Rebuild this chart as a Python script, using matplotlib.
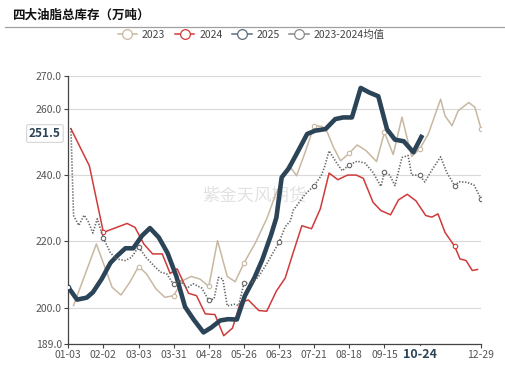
#!/usr/bin/env python3
# Line chart: total inventory of four major edible oils (10k tonnes), 2023/2024/2025 and 2023-2024 average.
# x values are category positions (one tick label every 4 positions).
import matplotlib

matplotlib.use("Agg")
import matplotlib.pyplot as plt
from matplotlib.lines import Line2D
from matplotlib.transforms import blended_transform_factory

plt.rcParams["font.family"] = ["Noto Sans CJK SC", "DejaVu Sans"]

TITLE = "四大油脂总库存（万吨）"
WATERMARK = "紫金天风期货"

TICK_POS = [0, 4, 8, 12, 16, 20, 24, 28, 32, 36, 47]
TICK_LABELS = ["01-03", "02-02", "03-03", "03-31", "04-28", "05-26",
               "06-23", "07-21", "08-18", "09-15", "12-29"]
POINTER_X = 40
POINTER_X_LABEL = "10-24"
POINTER_Y = 251.5

Y_TICKS = [189, 200, 220, 240, 260, 270]

X_2023 = [0.6, 3.2, 5.0, 6.0, 7.0, 8.0, 8.9, 10.0, 11.0, 12.0, 13.0, 14.0, 15.0, 16.0,
          17.0, 18.1, 19.0, 20.0, 21.3, 22.6, 23.6, 24.1, 25.1, 26.0, 27.0, 28.0, 28.9,
          29.5, 30.2, 31.0, 32.0, 32.9, 33.9, 35.1, 36.0, 37.0, 38.0, 39.1, 40.0, 41.0,
          42.4, 42.9, 43.7, 44.4, 45.6, 46.3, 47.0]
Y_2023 = [200.6, 219.2, 206.1, 203.8, 207.6, 212.4, 210.2, 205.6, 203.1, 203.6, 208.1,
          209.4, 208.6, 206.4, 220.2, 209.4, 207.8, 213.4, 219.5, 226.8, 234.1, 236.8,
          243.1, 239.8, 247.1, 254.9, 254.7, 252.9, 248.4, 244.3, 246.6, 249.1, 247.4,
          244.1, 252.9, 246.2, 257.5, 245.6, 247.8, 252.4, 262.9, 257.9, 254.9, 259.4,
          261.9, 260.5, 254.0]

X_2024 = [0.3, 2.4, 4.0, 6.7, 7.6, 8.6, 9.6, 10.7, 11.6, 12.4, 13.7, 14.6, 15.6, 16.7,
          17.7, 18.7, 19.6, 20.5, 21.7, 22.6, 23.7, 24.7, 25.6, 26.6, 27.7, 28.7, 29.7,
          30.7, 31.8, 32.8, 33.6, 34.7, 35.6, 36.7, 37.6, 38.6, 39.6, 40.7, 41.4, 42.1,
          42.9, 44.0, 44.6, 45.3, 46.0, 46.6]
Y_2024 = [254.0, 242.8, 222.7, 225.4, 224.2, 219.2, 216.2, 216.2, 210.3, 211.7, 204.3,
          203.6, 198.1, 197.9, 191.5, 193.8, 201.5, 202.3, 199.1, 198.9, 205.0, 208.9,
          216.5, 224.7, 223.8, 229.8, 240.6, 238.6, 240.0, 240.0, 239.0, 231.8, 229.3,
          228.0, 232.5, 234.2, 232.2, 227.8, 227.3, 228.3, 222.7, 218.5, 214.7, 214.2,
          211.2, 211.5]

X_2025 = [0.0, 1.0, 2.1, 2.8, 3.8, 4.8, 5.6, 6.5, 7.4, 8.4, 9.3, 10.3, 11.3, 12.3, 13.3,
          14.3, 15.4, 16.3, 17.3, 18.2, 19.2, 20.1, 21.2, 22.1, 23.1, 23.7, 24.3, 25.1,
          26.0, 27.2, 28.1, 29.3, 30.4, 31.3, 32.3, 33.3, 34.3, 35.3, 36.3, 37.2, 38.2,
          39.3, 40.2]
Y_2025 = [206.1, 202.4, 203.0, 204.6, 208.6, 213.5, 215.7, 217.9, 217.9, 221.7, 224.0,
          221.2, 216.5, 209.5, 200.2, 196.3, 192.5, 194.0, 196.1, 196.5, 196.4, 203.5,
          209.0, 214.5, 222.0, 227.2, 239.3, 242.0, 246.4, 252.4, 253.4, 253.9, 256.9,
          257.4, 257.4, 266.3, 264.9, 263.8, 253.8, 250.7, 250.2, 246.9, 251.5]

X_AVG = [0.3, 0.6, 1.2, 1.8, 2.3, 2.8, 3.3, 4.0, 4.8, 5.5, 6.5, 7.2, 8.0, 8.9, 9.8, 10.5,
         11.2, 12.0, 12.7, 13.5, 14.2, 15.2, 16.0, 16.6, 17.1, 17.6, 18.1, 18.9, 19.4,
         20.0, 20.9, 21.6, 22.6, 24.0, 24.7, 25.3, 25.6, 27.0, 28.0, 28.8, 29.2, 29.7,
         30.6, 31.2, 32.0, 32.9, 33.8, 34.7, 35.6, 36.0, 36.6, 37.2, 38.0, 38.7, 39.1,
         40.0, 40.6, 41.4, 42.4, 43.1, 44.0, 44.5, 45.4, 46.2, 47.0]
Y_AVG = [254.1, 227.8, 224.8, 227.9, 225.8, 222.5, 226.8, 221.0, 216.5, 214.7, 214.2,
         215.2, 218.3, 215.0, 212.5, 210.7, 210.2, 207.0, 208.3, 205.8, 207.2, 205.9,
         202.2, 202.6, 209.1, 208.6, 200.5, 201.0, 200.6, 207.3, 207.6, 209.1, 213.2,
         219.7, 224.4, 226.2, 229.3, 234.3, 236.8, 239.8, 242.6, 247.3, 243.5, 241.3,
         243.1, 244.2, 243.6, 240.8, 236.6, 240.8, 240.0, 236.8, 245.3, 245.9, 240.0,
         240.0, 237.9, 241.5, 245.5, 240.8, 236.8, 238.0, 237.8, 237.0, 232.8]

# Series styling, drawn in this order (average on top).
SERIES = [
    {"label": "2023", "x": X_2023, "y": Y_2023, "color": "#C8B8A2", "lw": 1.1, "ls": "-"},
    {"label": "2024", "x": X_2024, "y": Y_2024, "color": "#D03A3A", "lw": 1.1, "ls": "-"},
    {"label": "2025", "x": X_2025, "y": Y_2025, "color": "#2C4457", "lw": 3.3, "ls": "-"},
    {"label": "2023-2024均值", "x": X_AVG, "y": Y_AVG, "color": "#666666", "lw": 1.2,
     "ls": (0, (0.8, 1.0))},
]
LEGEND_COLORS = {"2025": "#5B6C7C", "2023-2024均值": "#888888"}
MARK_POS = set(TICK_POS + [POINTER_X, 44])


def draw(path):
    """Draw the chart and save it."""
    fig = plt.figure(figsize=(5.05, 3.65), dpi=100)
    fig.patch.set_facecolor("white")
    ax = fig.add_axes([0.1352, 0.0575, 0.8173, 0.7351])

    for z, s in enumerate(SERIES):
        marks = [i for i, x in enumerate(s["x"]) if x in MARK_POS]
        ax.plot(s["x"], s["y"], color=s["color"], linewidth=s["lw"], linestyle=s["ls"],
                marker="o", markevery=marks, markersize=3.2, markerfacecolor="white",
                markeredgecolor=s["color"], markeredgewidth=0.8,
                solid_joinstyle="round", zorder=3 + z)

    ax.set_xlim(0, 47)
    ax.set_ylim(189, 270)
    ax.set_yticks(Y_TICKS)
    ax.set_yticklabels([f"{v:.1f}" for v in Y_TICKS])
    ax.set_xticks(TICK_POS[:-1] + [POINTER_X, TICK_POS[-1]])
    ax.set_xticklabels(TICK_LABELS[:-1] + ["", TICK_LABELS[-1]])
    ax.tick_params(axis="both", labelsize=7.5, labelcolor="#555555", color="#444444",
                   length=3, width=0.8, pad=1.5)
    ax.yaxis.grid(True, color="#D9D9D9", linewidth=0.8)
    ax.set_axisbelow(True)
    for side in ("top", "right"):
        ax.spines[side].set_visible(False)
    for side in ("left", "bottom"):
        ax.spines[side].set_color("#444444")
        ax.spines[side].set_linewidth(0.9)

    # Axis pointer labels (hovered point of 2025).
    bx = blended_transform_factory(ax.transData, ax.transAxes)
    ax.text(POINTER_X, -0.038, POINTER_X_LABEL, transform=bx, ha="center", va="center",
            fontsize=9, fontweight="bold", color="#2C4457", clip_on=False, zorder=10,
            bbox=dict(boxstyle="square,pad=0.15", fc="white", ec="none"))
    by = blended_transform_factory(ax.transAxes, ax.transData)
    ax.annotate(f"{POINTER_Y:.1f}", xy=(-0.018, POINTER_Y), xycoords=by,
                xytext=(0, 2.5), textcoords="offset points", ha="right", va="center",
                fontsize=8.5, fontweight="bold", color="#2C4457", annotation_clip=False,
                zorder=10,
                bbox=dict(boxstyle="round,pad=0.2,rounding_size=0.15", fc="white",
                          ec="#D5D5D5", lw=0.8))

    ax.text(0.45, 0.555, WATERMARK, transform=ax.transAxes, ha="center", va="center",
            fontsize=12.5, color="#E2E2E2", zorder=1)

    fig.text(12 / 505, 1 - 15.5 / 365, TITLE, ha="left", va="center", fontsize=9,
             fontweight="bold", color="#111111")
    fig.add_artist(Line2D([5 / 505, 1.0], [1 - 27.3 / 365] * 2, color="#A0A0A0",
                          linewidth=0.9))

    handles = [
        Line2D([], [], color=LEGEND_COLORS.get(s["label"], s["color"]), linewidth=1.1,
               marker="o", markersize=7, markerfacecolor="white",
               markeredgewidth=0.9, label=s["label"])
        for s in SERIES
    ]
    fig.legend(handles=handles, loc="center", bbox_to_anchor=(0.497, 1 - 35 / 365),
               ncol=4, frameon=False, fontsize=7.5, handlelength=1.9,
               handletextpad=0.45, columnspacing=0.9, labelcolor="#444444")

    fig.savefig(path, dpi=100)
    plt.close(fig)


def main():
    draw("out.png")


if __name__ == "__main__":
    main()
